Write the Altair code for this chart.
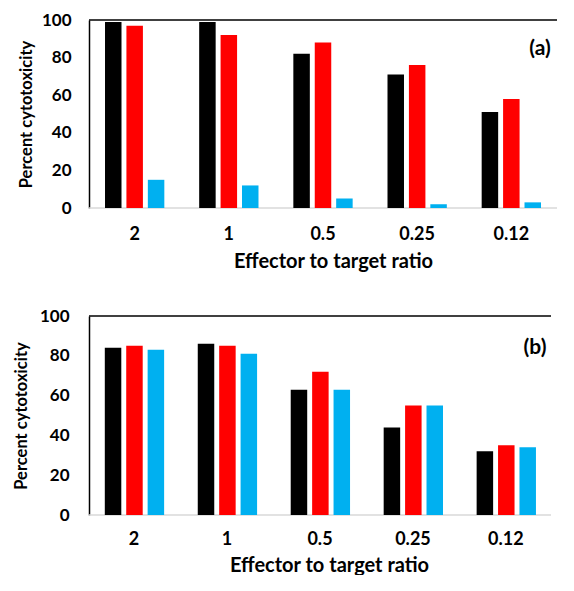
import altair as alt
import pandas as pd

ratios = ["2", "1", "0.5", "0.25", "0.12"]
series = ["S1", "S2", "S3"]
colors = ["#000000", "#FF0000", "#00B0F0"]

a_black = [99, 99, 82, 71, 51]
a_red = [97, 92, 88, 76, 58]
a_blue = [15, 12, 5, 2, 3]

b_black = [84, 86, 63, 44, 32]
b_red = [85, 85, 72, 55, 35]
b_blue = [83, 81, 63, 55, 34]

FONT = "Lato"


def make_df(black, red, blue):
    rows = []
    for s, vals in zip(series, [black, red, blue]):
        for r, v in zip(ratios, vals):
            rows.append({"ratio": r, "series": s, "value": v})
    return pd.DataFrame(rows)


def panel(df, label, w, h, title_pad, label_pad, xlab_pad, xtitle_pad, title_x, lab_x, lab_y):
    base = alt.Chart(df)
    bars = base.mark_bar().encode(
        x=alt.X("ratio:N", sort=ratios,
                scale=alt.Scale(paddingInner=0.37, paddingOuter=0.17),
                axis=alt.Axis(title="Effector to target ratio", labelAngle=0,
                              ticks=False, domain=False,
                              labelFont=FONT, labelFontSize=18, labelFontWeight="bold",
                              labelColor="#000", labelPadding=xlab_pad,
                              titleFont=FONT, titleFontSize=20, titleFontWeight="bold",
                              titleColor="#000", titlePadding=xtitle_pad, titleX=title_x)),
        xOffset=alt.XOffset("series:N", sort=series,
                            scale=alt.Scale(paddingInner=0.23)),
        y=alt.Y("value:Q", scale=alt.Scale(domain=[0, 100], nice=False),
                axis=alt.Axis(title="Percent cytotoxicity", values=[0, 20, 40, 60, 80, 100],
                              grid=False, ticks=False, domainColor="#000", domainWidth=1.5,
                              labelFont=FONT, labelFontSize=17, labelFontWeight="bold",
                              labelColor="#000", labelPadding=label_pad,
                              titleFont=FONT, titleFontSize=16.5, titleFontWeight="bold",
                              titleColor="#000", titlePadding=title_pad)),
        color=alt.Color("series:N", sort=series,
                        scale=alt.Scale(domain=series, range=colors), legend=None),
    )
    one = pd.DataFrame({"k": [0]})
    top = alt.Chart(one).mark_rule(color="#000", strokeWidth=1.5).encode(y=alt.value(0))
    bottom = alt.Chart(one).mark_rule(color="#d9d9d9", strokeWidth=1.5).encode(y=alt.value(h))
    txt = alt.Chart(pd.DataFrame({"t": [label]})).mark_text(
        font=FONT, fontSize=21, fontWeight="bold", color="#000", align="center", baseline="middle"
    ).encode(text="t:N", x=alt.value(lab_x), y=alt.value(lab_y))
    return alt.layer(bottom, bars, top, txt).properties(width=w, height=h)


pa = panel(make_df(a_black, a_red, a_blue), "(a)", 468, 188, 7, 18, 17, 8, 244, 451, 29)
pb = panel(make_df(b_black, b_red, b_blue), "(b)", 462, 199, 10, 20, 15, 7, 240, 446, 32)

chart = alt.vconcat(pa, pb, spacing=36).properties(
    padding={"left": 5, "top": 3, "right": 0, "bottom": 0}
).configure_view(stroke=None)

chart.save("out.html", embed_options={"renderer": "svg", "actions": False})
